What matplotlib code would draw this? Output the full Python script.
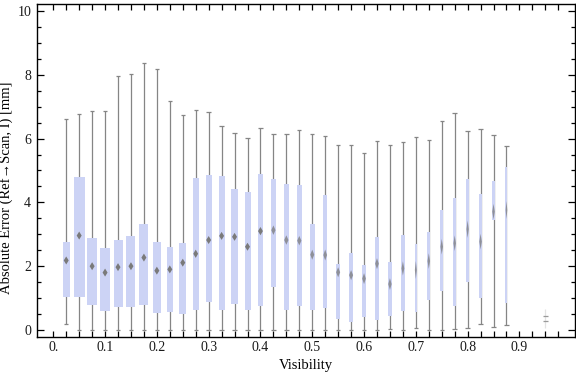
import matplotlib
matplotlib.use('Agg')
import matplotlib.pyplot as plt
import numpy as np
from matplotlib.patches import Polygon, Rectangle
from matplotlib.ticker import MultipleLocator, FixedLocator, FuncFormatter

plt.rcParams['font.family'] = ['Liberation Serif', 'DejaVu Serif']

# visibility bins
visibility = np.round(np.arange(1, 36) * 0.025, 3)

whisker_low = [0.18, 0, 0, 0, 0, 0, 0, 0, 0, 0, 0, 0, 0, 0, 0, 0, 0, 0, 0, 0,
               0, 0, 0, 0, 0, 0.02, 0, 0.05, 0, 0, 0.02, 0.05, 0.18, 0.10, 0.15]
q1 = [1.04, 1.04, 0.79, 0.61, 0.73, 0.73, 0.79, 0.54, 0.57, 0.51, 0.64, 0.88,
      0.64, 0.83, 0.64, 0.76, 1.36, 0.64, 0.76, 0.64, 0.68, 0.36, 0.24, 0.40,
      0.32, 0.45, 0.61, 0.57, 0.95, 1.23, 0.76, 1.49, 1.01, 3.46, 0.86]
median = [2.18, 2.96, 2.00, 1.80, 1.97, 2.00, 2.27, 1.86, 1.90, 2.11, 2.39, 2.82,
          2.95, 2.92, 2.61, 3.10, 3.13, 2.82, 2.80, 2.36, 2.35, 1.81, 1.72, 1.61,
          2.08, 1.44, 1.93, 1.88, 2.16, 2.61, 2.72, 3.16, 2.77, 3.71, 3.76]
q3 = [2.76, 4.80, 2.88, 2.57, 2.82, 2.94, 3.33, 2.76, 2.60, 2.73, 4.76, 4.86,
      4.83, 4.42, 4.32, 4.89, 4.72, 4.58, 4.55, 3.32, 4.23, 2.06, 2.41, 2.04,
      2.92, 2.13, 2.98, 2.70, 3.07, 3.76, 4.13, 4.73, 4.26, 4.67, 5.12]
whisker_high = [6.61, 6.76, 6.86, 6.86, 7.95, 8.02, 8.36, 8.17, 7.17, 6.73, 6.89,
                6.82, 6.38, 6.17, 6.02, 6.32, 6.13, 6.13, 6.26, 6.13, 6.07, 5.79,
                5.79, 5.54, 5.91, 5.79, 5.88, 6.04, 5.95, 6.54, 6.79, 6.23, 6.29,
                6.10, 5.76]

# nearly empty bin at 0.95
sparse_vis = 0.95
sparse_low, sparse_q1, sparse_q3, sparse_high = 0.05, 0.28, 0.45, 0.65

# box widths in pixels (styling)
box_px = [6.7, 11, 9.3, 9.3, 9, 9, 9, 8.7, 6.3, 6.7, 5.7, 6, 6, 6.3, 6, 5.7, 5,
          5, 5, 4.7, 4.3, 4.7, 4.7, 4.3, 4.3, 4, 3.3, 2.3, 3, 3, 3, 2.7, 3, 3, 2]

W, H = 576, 377
fig = plt.figure(figsize=(W / 100, H / 100), dpi=100)
left, right, top, bottom = 36.7, 575, 4.3, 337.3
ax = fig.add_axes([left / W, 1 - bottom / H, (right - left) / W, (bottom - top) / H])

xlim = (-0.032, 1.0073)
ylim = (-0.229, 10.21)
ax.set_xlim(*xlim)
ax.set_ylim(*ylim)

# pixel -> data unit factors
px_x = (xlim[1] - xlim[0]) / (right - left)
px_y = (ylim[1] - ylim[0]) / (bottom - top)

box_color = '#ccd3f5'
line_color = '#858585'
cap_half = 2.2 * px_x

for x, lo, a, m, b, hi, wpx in zip(visibility, whisker_low, q1, median, q3,
                                   whisker_high, box_px):
    ax.vlines(x, lo, hi, color=line_color, lw=0.9, zorder=2)
    ax.hlines([lo, hi], x - cap_half, x + cap_half, color=line_color, lw=0.9, zorder=2)
    w = wpx * px_x
    ax.add_patch(Rectangle((x - w / 2, a), w, b - a, facecolor=box_color,
                           edgecolor='none', zorder=3))
    dw = min(5.0, 0.85 * wpx)
    dh = float(np.clip(40.0 / dw, 8, 18))
    alpha = 1.0 if dw >= 4.5 else 0.75
    hx, hy = dw / 2 * px_x, dh / 2 * px_y
    ax.add_patch(Polygon([(x - hx, m), (x, m + hy), (x + hx, m), (x, m - hy)],
                         closed=True, facecolor='#7a7a7a', edgecolor='none',
                         alpha=alpha, zorder=4))

ax.vlines(sparse_vis, sparse_low, sparse_high, color='#e3e3e3', lw=0.9, zorder=2)
ax.hlines([sparse_q1, sparse_q3], sparse_vis - cap_half, sparse_vis + cap_half,
          color='#9a9a9a', lw=0.9, zorder=3)

# ticks
ax.xaxis.set_major_locator(FixedLocator(np.round(np.arange(0, 40) * 0.025, 3)))


def xfmt(v, pos):
    k = int(round(v / 0.025))
    if k % 4 != 0:
        return ''
    return '0.' if k == 0 else '%.1f' % v


ax.xaxis.set_major_formatter(FuncFormatter(xfmt))
ax.yaxis.set_major_locator(MultipleLocator(2))
ax.yaxis.set_minor_locator(MultipleLocator(0.5))

ax.tick_params(axis='both', which='both', direction='in', top=True, right=True,
               color='black', labelsize=10, labelcolor='#1a1a1a')
ax.tick_params(axis='x', which='major', length=4, width=0.9, pad=2.5)
ax.tick_params(axis='y', which='major', length=5, width=0.9, pad=4)
ax.tick_params(axis='y', which='minor', length=3, width=0.9)

for s in ax.spines.values():
    s.set_linewidth(1.0)

ax.set_xlabel('Visibility', fontsize=10.5, labelpad=4)
ax.set_ylabel('Absolute Error (Ref\u2192Scan, I) [mm]', fontsize=10.5)
ax.yaxis.set_label_coords(-0.044, 0.448)

fig.savefig('out.png', dpi=100)
